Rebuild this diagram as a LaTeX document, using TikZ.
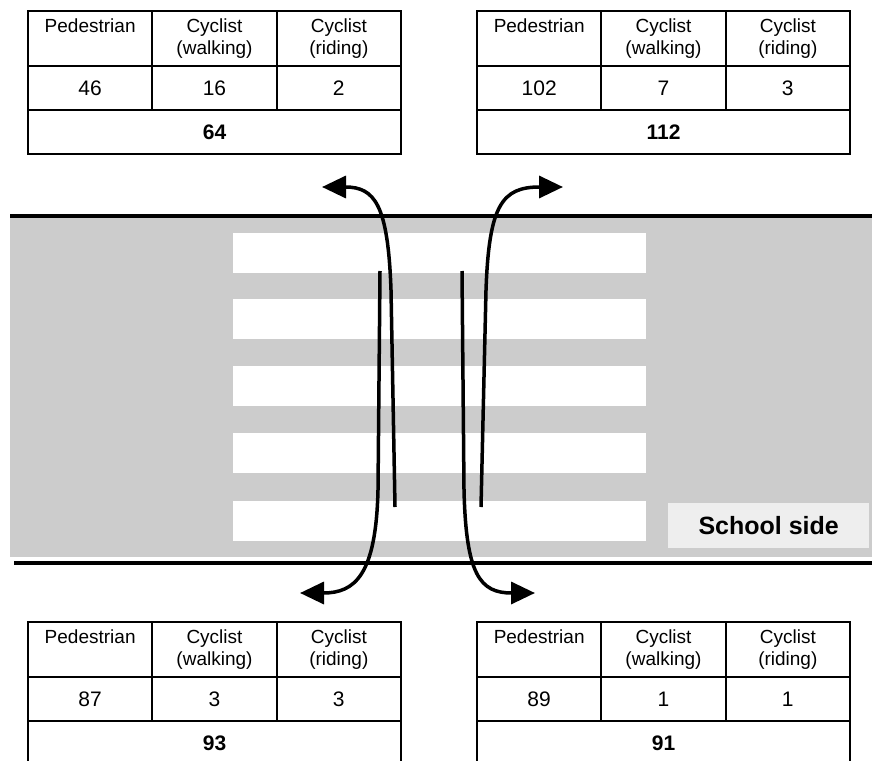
\documentclass[tikz,border=0pt]{standalone}
\usepackage{fontspec}
\setmainfont{Liberation Sans}
\definecolor{roadgray}{RGB}{204,204,204}
\definecolor{schoolgray}{RGB}{238,238,238}
\usetikzlibrary{arrows.meta,positioning}

\begin{document}
\begin{tikzpicture}[x=1pt,y=-1pt,
  cell/.style={draw,line width=2pt,inner sep=0pt,outer sep=0pt,minimum width=124.33pt,align=center},
  headcell/.style={cell,minimum height=55pt,font=\fontsize{19}{22}\selectfont},
  numcell/.style={cell,minimum height=44pt,font=\fontsize{21}{25}\selectfont},
  totcell/.style={cell,minimum width=373pt,minimum height=44pt,font=\fontsize{21}{25}\selectfont\bfseries},
  flow/.style={line width=3.5pt,-{Triangle[length=24pt,width=22pt]}}]
\clip (0,0) rectangle (872,760);
% road and crossing
\fill[roadgray] (10,218) rectangle (872,557);
\draw[line width=4pt] (10,216) -- (872,216);
\draw[line width=4pt] (14,563) -- (872,563);
\foreach \y in {233,299,366,433,501}
  \fill[white] (233,\y) rectangle (646,\y+40);
\node[fill=schoolgray,inner sep=0pt,minimum width=201pt,minimum height=45pt,anchor=north west,font=\fontsize{25}{30}\selectfont\bfseries] (school) at (668,503) {School side};
% counting tables
\foreach \tabx/\taby/\tabname/\nped/\nwalk/\nride/\ntot in {28/11/tl/46/16/2/64, 477/11/tr/102/7/3/112, 28/622/bl/87/3/3/93, 477/622/br/89/1/1/91}{
  \node[headcell,anchor=north west] (\tabname-ped) at (\tabx,\taby) {Pedestrian\\\phantom{(walking)}};
  \node[headcell,right=0pt of \tabname-ped] (\tabname-walk) {Cyclist\\(walking)};
  \node[headcell,right=0pt of \tabname-walk] (\tabname-ride) {Cyclist\\(riding)};
  \node[numcell,below=0pt of \tabname-ped] (\tabname-n1) {\nped};
  \node[numcell,below=0pt of \tabname-walk] (\tabname-n2) {\nwalk};
  \node[numcell,below=0pt of \tabname-ride] (\tabname-n3) {\nride};
  \node[totcell,anchor=north west] (\tabname-tot) at (\tabname-n1.south west) {\ntot};
}
% crossing movements
\coordinate (upL-start) at (395,507);
\coordinate (upL-bend) at (391,290);
\coordinate (upL-end) at (322,187);
\coordinate (downL-start) at (380,271);
\coordinate (downL-bend) at (378,490);
\coordinate (downL-end) at (300,593);
\coordinate (downR-start) at (462,271);
\coordinate (downR-bend) at (464,490);
\coordinate (downR-end) at (535,593);
\coordinate (upR-start) at (481,507);
\coordinate (upR-bend) at (486,290);
\coordinate (upR-end) at (563,187);
\draw[flow] (upL-start) -- (upL-bend) .. controls +(-3,-85) and +(53,0) .. (upL-end);
\draw[flow] (downL-start) -- (downL-bend) .. controls +(-2,85) and +(55,0) .. (downL-end);
\draw[flow] (downR-start) -- (downR-bend) .. controls +(2,85) and +(-55,0) .. (downR-end);
\draw[flow] (upR-start) -- (upR-bend) .. controls +(3,-85) and +(-61,0) .. (upR-end);
\end{tikzpicture}
\end{document}
